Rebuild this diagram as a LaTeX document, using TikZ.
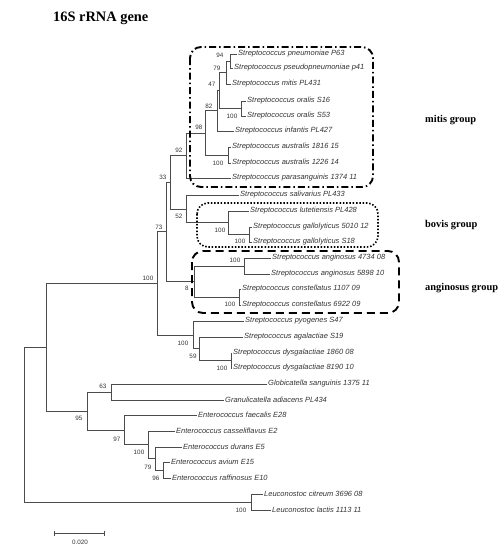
\documentclass[tikz,border=0pt]{standalone}
\usepackage{fontspec}
\setmainfont{Liberation Serif}
\setsansfont{Liberation Sans}
\usetikzlibrary{arrows.meta}
\begin{document}
\begin{tikzpicture}[x=1pt,y=-1pt,
		leaf/.style={anchor=west,inner sep=1pt,font=\sffamily\itshape\fontsize{7.5}{8}\selectfont,text=black!80},
		bs/.style={inner sep=0pt,font=\sffamily\fontsize{6.3}{7}\selectfont,text=black!80},
		grp/.style={anchor=west,inner sep=0pt,font=\bfseries\fontsize{10.4}{12}\selectfont},
		br/.style={draw=black!70,line width=0.6pt},
		grpbox/.style={line width=1.9pt,rounded corners=11pt}]
	\useasboundingbox (0,0) rectangle (504,550);
	\node[anchor=west,inner sep=0pt,font=\bfseries\fontsize{14.4}{16}\selectfont] (title) at (53,18) {16S rRNA gene};
	% leaves
	\foreach \n/\x/\y/\t in {sPneu/237/54/Streptococcus pneumoniae P63, sPseudo/233/68/Streptococcus pseudopneumoniae p41,
		sMitis/231/84/Streptococcus mitis PL431, sOra16/246/101/Streptococcus oralis S16, sOra53/246/116/Streptococcus oralis S53,
		sInf/234/131/Streptococcus infantis PL427, sAus1816/231/147/Streptococcus australis 1816 15, sAus1226/231/163/Streptococcus australis 1226 14,
		sPara/231/178/Streptococcus parasanguinis 1374 11, sSal/239/195/Streptococcus salivarius PL433, sLut/249/211/Streptococcus lutetiensis PL428,
		sGal5010/252/227/Streptococcus gallolyticus 5010 12, sGalS18/252/242/Streptococcus gallolyticus S18,
		sAng4734/271/258/Streptococcus anginosus 4734 08, sAng5898/270/274/Streptococcus anginosus 5898 10,
		sCon1107/241/289/Streptococcus constellatus 1107 09, sCon6922/241/305/Streptococcus constellatus 6922 09,
		sPyo/244/321/Streptococcus pyogenes S47, sAga/243/337/Streptococcus agalactiae S19,
		sDys1860/232/353/Streptococcus dysgalactiae 1860 08, sDys8190/232/368/Streptococcus dysgalactiae 8190 10,
		gSang/267/384/Globicatella sanguinis 1375 11, gAdia/224/400/Granulicatella adiacens PL434,
		eFae/197/415/Enterococcus faecalis E28, eCas/175/431/Enterococcus casseliflavus E2, eDur/182/447/Enterococcus durans E5,
		eAvi/170/462/Enterococcus avium E15, eRaf/171/478/Enterococcus raffinosus E10,
		lCit/263/494/Leuconostoc citreum 3696 08, lLac/271/510/Leuconostoc lactis 1113 11}
		\node[leaf] (\n) at (\x,\y) {\t};
	% inner nodes
	\foreach \n/\x/\y in {n94/230/61, n79/226/72.5, nOra/241/108.5, n47/219/90.5, n82/217/110.75, nAus/228/155,
		n98/205/133, n92/186/155.5, nGal/249/234.5, nBov/228/222.75, n52/186/209, n33/170/182,
		nAng/244/266, nCon/239/297, n81/194/281.5, n73/166/231.75, nDys/231/360.5, n59/199/348.75,
		nPyo/193/335, nStr/157/283.4, n63/111/392, n96/163/470, n79e/155/458.5, nCas/148/444.75,
		n97/124/430, n95/87/411, nLow/46/347, nLeu/251/502, root/24/424.5}
		\coordinate (\n) at (\x,\y);
	% branches
	\foreach \a/\b in {n94/sPneu.west, n94/sPseudo.west, n79/n94, n79/sMitis.west, nOra/sOra16.west, nOra/sOra53.west,
		n47/n79, n47/nOra, n82/n47, n82/sInf.west, nAus/sAus1816.west, nAus/sAus1226.west, n98/n82, n98/nAus,
		n92/n98, n92/sPara.west, nGal/sGal5010.west, nGal/sGalS18.west, nBov/sLut.west, nBov/nGal,
		n52/sSal.west, n52/nBov, n33/n92, n33/n52, nAng/sAng4734.west, nAng/sAng5898.west,
		nCon/sCon1107.west, nCon/sCon6922.west, n81/nAng, n81/nCon, n73/n33, n73/n81,
		nDys/sDys1860.west, nDys/sDys8190.west, n59/sAga.west, n59/nDys, nPyo/sPyo.west, nPyo/n59,
		nStr/n73, nStr/nPyo, n63/gSang.west, n63/gAdia.west, n96/eAvi.west, n96/eRaf.west,
		n79e/eDur.west, n79e/n96, nCas/eCas.west, nCas/n79e, n97/eFae.west, n97/nCas,
		n95/n63, n95/n97, nLow/nStr, nLow/n95, nLeu/lCit.west, nLeu/lLac.west, root/nLow, root/nLeu}
		\draw[br] (\a) |- (\b);
	% bootstrap values
	\foreach \n/\x/\y/\v in {b94/220/55/94, b79/217/68/79, b47/212/84/47, bOra/232/116/100, b82/209/106/82,
		b98/199/127/98, bAus/218/163/100, b92/179/150/92, b33/163/177/33, b52/179/216/52, bBov/220/230/100,
		bGal/240/241/100, b73/159/227/73, bStr/148/278/100, bAng/235/260/100, b81/187/288/8, bCon/230/304/100,
		bPyo/183/343/100, b59/193/356/59, bDys/222/368/100, b63/103/386/63, b95/79/418/95, b97/117/439/97,
		bCas/139/452/100, b79e/148/467/79, b96/156/478/96, bLeu/241/510/100}
		\node[bs] (\n) at (\x,\y) {\v};
	% group boxes
	\coordinate (mitNW) at (190,47);
	\coordinate (mitSE) at (373,187);
	\coordinate (bovNW) at (197,203);
	\coordinate (bovSE) at (378,247);
	\coordinate (angNW) at (192,251);
	\coordinate (angSE) at (399,313);
	\draw[grpbox,dash pattern=on 7pt off 3pt on 1.5pt off 3pt] (mitNW) rectangle (mitSE);
	\draw[grpbox,line width=1.6pt,dash pattern=on 1.5pt off 1.8pt] (bovNW) rectangle (bovSE);
	\draw[grpbox,dash pattern=on 8pt off 5pt] (angNW) rectangle (angSE);
	\node[grp] (gMitis) at (425,120) {mitis group};
	\node[grp] (gBovis) at (425,225) {bovis group};
	\node[grp] (gAng) at (425,288) {anginosus group};
	% scale bar
	\coordinate (sbL) at (54,533);
	\coordinate (sbR) at (105,533);
	\draw[black!70,line width=0.6pt,arrows={Bar[width=5pt]-Bar[width=5pt]}] (sbL) -- (sbR);
	\node[bs] (sbLab) at (80,542) {0.020};
\end{tikzpicture}
\end{document}
